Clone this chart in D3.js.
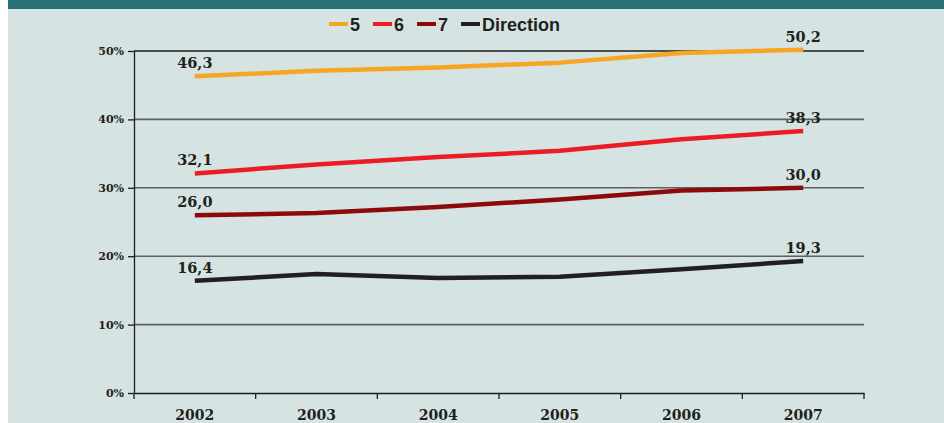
<!DOCTYPE html>
<html>
<head>
<meta charset="utf-8">
<script src="https://cdn.jsdelivr.net/npm/d3@7"></script>
<style>
  html, body { margin: 0; padding: 0; background: #fff; }
  svg { display: block; }
</style>
</head>
<body>
<svg id="chart" width="944" height="423"></svg>
<script>
const years = ['2002', '2003', '2004', '2005', '2006', '2007'];
const seriesNames = ['5', '6', '7', 'Direction'];
const values5 = [46.3, 47.1, 47.6, 48.3, 49.7, 50.2];
const values6 = [32.1, 33.4, 34.5, 35.4, 37.1, 38.3];
const values7 = [26.0, 26.3, 27.2, 28.3, 29.6, 30.0];
const valuesDirection = [16.4, 17.4, 16.8, 17.0, 18.1, 19.3];
const colors = ['#f6a623', '#ed1c24', '#8c0a0a', '#231f20'];
const yTicks = [0, 10, 20, 30, 40, 50];

const series = [values5, values6, values7, valuesDirection].map((v, i) => ({
  name: seriesNames[i],
  color: colors[i],
  points: v.map((d, j) => ({ year: years[j], value: d })),
}));

const svg = d3.select('#chart');
const numFont = '"DejaVu Serif", serif';

// background panels
svg.append('rect').attr('x', 0).attr('y', 0).attr('width', 944).attr('height', 423).attr('fill', '#ffffff');
svg.append('rect').attr('x', 8).attr('y', 0).attr('width', 936).attr('height', 423).attr('fill', '#d5e3e3');
svg.append('rect').attr('x', 8).attr('y', 0).attr('width', 936).attr('height', 9).attr('fill', '#277073');

const x = d3.scaleBand().domain(years).range([134, 864]);
const y = d3.scaleLinear().domain([0, 50]).range([393, 51]);
const cx = d => x(d) + x.bandwidth() / 2;

// gridlines
svg.append('g').selectAll('line')
  .data(yTicks.filter(t => t > 0))
  .join('line')
    .attr('x1', x.range()[0]).attr('x2', x.range()[1])
    .attr('y1', d => y(d)).attr('y2', d => y(d))
    .attr('stroke', d => d === 50 ? '#1e1e1e' : '#5f5f5f')
    .attr('stroke-width', d => d === 50 ? 1.3 : 1.6);

// y axis
const yAxis = svg.append('g')
  .attr('transform', `translate(${x.range()[0]},0)`)
  .call(d3.axisLeft(y).tickValues(yTicks).tickFormat(d => d + '%').tickSizeInner(6).tickSizeOuter(0).tickPadding(4));
yAxis.select('.domain').attr('stroke', '#1e1e1e').attr('stroke-width', 1.3);
yAxis.selectAll('.tick line').attr('stroke', '#1e1e1e').attr('stroke-width', 1.3);
yAxis.selectAll('.tick text')
  .attr('font-family', numFont).attr('font-weight', 'bold').attr('font-size', 11)
  .attr('fill', '#231f20');

// x axis
const xAxis = svg.append('g')
  .attr('transform', `translate(0,${y(0)})`)
  .call(d3.axisBottom(x).tickSize(0).tickPadding(17));
xAxis.select('.domain').attr('stroke', '#1e1e1e').attr('stroke-width', 1.3);
xAxis.selectAll('.tick text')
  .attr('font-family', numFont).attr('font-weight', 'bold').attr('font-size', 14)
  .attr('fill', '#231f20');
xAxis.selectAll('line.sep')
  .data(years.map(d => x(d)).concat([x.range()[1]]))
  .join('line').attr('class', 'sep')
    .attr('x1', d => d).attr('x2', d => d)
    .attr('y1', 0).attr('y2', 6)
    .attr('stroke', '#1e1e1e').attr('stroke-width', 1.3);

// lines
const line = d3.line().x(d => cx(d.year)).y(d => y(d.value));
svg.append('g').selectAll('path')
  .data(series)
  .join('path')
    .attr('d', d => line(d.points))
    .attr('fill', 'none')
    .attr('stroke', d => d.color)
    .attr('stroke-width', 4.5)
    .attr('stroke-linejoin', 'round');

// end labels
const fmt = d => d3.format('.1f')(d).replace('.', ',');
svg.append('g').selectAll('text')
  .data(series.flatMap(s => [s.points[0], s.points[s.points.length - 1]]))
  .join('text')
    .attr('x', d => cx(d.year))
    .attr('y', d => y(d.value) - 8)
    .attr('text-anchor', 'middle')
    .attr('font-family', numFont).attr('font-weight', 'bold').attr('font-size', 14.5)
    .attr('fill', '#231f20')
    .text(d => fmt(d.value));

// legend
const legendX = [329, 373, 417, 461];
const legend = svg.append('g').selectAll('g')
  .data(series)
  .join('g')
    .attr('transform', (d, i) => `translate(${legendX[i]},24)`);
legend.append('rect')
  .attr('x', 0).attr('y', -2).attr('width', 19).attr('height', 4)
  .attr('fill', d => d.color);
legend.append('text')
  .attr('x', 21).attr('y', 7)
  .attr('font-family', '"Liberation Sans Narrow", "Liberation Sans", sans-serif')
  .attr('font-weight', 'bold').attr('font-size', 18)
  .attr('fill', '#231f20')
  .text(d => d.name);
</script>
</body>
</html>
